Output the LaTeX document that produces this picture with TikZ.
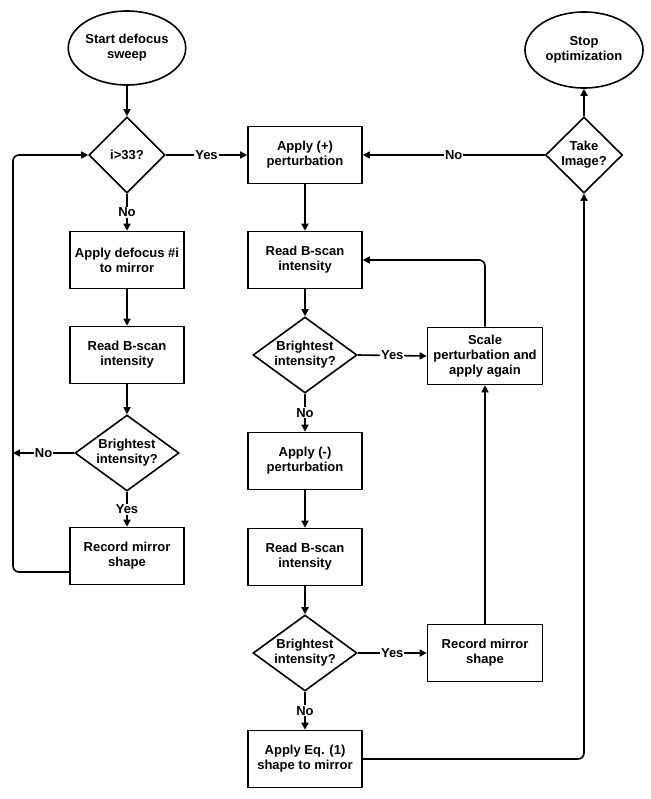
\documentclass[tikz,border=0pt]{standalone}
\usepackage{fontspec}
\setmainfont{Liberation Sans}
\usetikzlibrary{shapes.geometric,arrows.meta}
\begin{document}
\begin{tikzpicture}[x=1pt,y=-1pt,
  font=\fontsize{13}{15}\selectfont\bfseries,
  every path/.style={line width=1.6pt},
  box/.style={draw,rectangle,minimum width=114pt,minimum height=57pt,align=center,inner sep=1pt},
  term/.style={draw,ellipse,minimum width=115pt,minimum height=74pt,align=center,inner sep=0pt},
  dec/.style={draw,diamond,minimum width=#1,minimum height=76pt,inner sep=0pt},
  dec/.default=104pt,
  arr/.style={-{Triangle[length=7pt,width=7pt]}},
  lab/.style={fill=white,inner sep=1pt}]
\useasboundingbox (0,0) rectangle (650,799);
% left column
\node[term] (start) at (127,48) {Start defocus\\sweep};
\node[dec=76pt,label={center:i>33?}] (d1) at (127,155) {};
\node[box] (a1) at (127,260) {Apply defocus \#i\\to mirror};
\node[box] (r1) at (127,355) {Read B-scan\\intensity};
\node[dec,label={[align=center]center:Brightest\\intensity?}] (b1) at (127,453) {};
\node[box] (rec1) at (127,556) {Record mirror\\shape};
\coordinate (L1) at (13,572);
\coordinate (L2) at (13,155);
\coordinate (L3) at (13,453);
% middle column
\node[box] (p1) at (305,155) {Apply (+)\\perturbation};
\node[box] (r2) at (305,260) {Read B-scan\\intensity};
\node[dec,label={[align=center]center:Brightest\\intensity?}] (b2) at (305,355) {};
\node[box] (m1) at (305,461) {Apply (-)\\perturbation};
\node[box] (r3) at (305,557) {Read B-scan\\intensity};
\node[dec,label={[align=center]center:Brightest\\intensity?}] (b3) at (305,653) {};
\node[box] (eq) at (305,759) {Apply Eq. (1)\\shape to mirror};
% right column
\node[box,minimum width=115pt] (sc) at (485,356) {Scale\\perturbation and\\apply again};
\node[box,minimum width=115pt] (rec2) at (485,653) {Record mirror\\shape};
\node[dec=77pt,label={[align=center]center:Take\\Image?}] (ti) at (584,155) {};
\node[term,minimum width=118pt,minimum height=76pt] (stop) at (584,50) {Stop\\optimization};
\coordinate (C1) at (485,260);
\coordinate (C2) at (584,759);
% connectors
\draw[arr] (start) -- (d1.north);
\draw[arr] (d1.east) -- node[lab] {Yes} (p1.west);
\draw[arr] (d1.south) -- node[lab] {No} (a1.north);
\draw[arr] (a1) -- (r1);
\draw[arr] (r1) -- (b1.north);
\draw[arr] (b1.south) -- node[lab] {Yes} (rec1.north);
\draw[arr] (b1.west) -- node[lab] {No} (L3);
\draw[arr,rounded corners=6pt] (rec1.west |- L1) -- (L1) -- (L2) -- (d1.west);
\draw[arr] (p1) -- (r2);
\draw[arr] (r2) -- (b2.north);
\draw[arr] (b2.east) -- node[lab] {Yes} (sc.west);
\draw[arr] (b2.south) -- node[lab] {No} (m1.north);
\draw[arr] (m1) -- (r3);
\draw[arr] (r3) -- (b3.north);
\draw[arr] (b3.east) -- node[lab] {Yes} (rec2.west);
\draw[arr] (b3.south) -- node[lab] {No} (eq.north);
\draw[arr,rounded corners=6pt] (sc.north) -- (C1) -- (r2.east);
\draw[arr] (rec2.north) -- (sc.south);
\draw[arr,rounded corners=6pt] (eq.east) -- (C2) -- (ti.south);
\draw[arr] (ti.west) -- node[lab] {No} (p1.east);
\draw[arr] (ti.north) -- (stop.south);
\end{tikzpicture}
\end{document}
